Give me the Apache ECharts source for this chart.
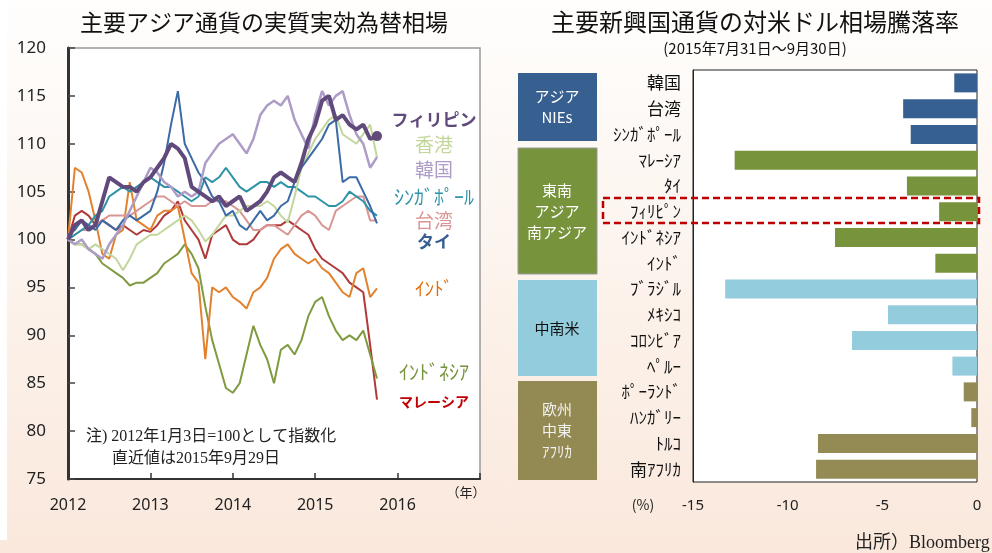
<!DOCTYPE html>
<html>
<head>
<meta charset="utf-8">
<script src="https://cdn.jsdelivr.net/npm/echarts@6/dist/echarts.min.js"></script>
<style>
html, body { margin: 0; padding: 0; }
#chart { width: 992px; height: 553px; background: linear-gradient(to bottom, #fffefd 0%, #fcf3ec 50%, #fae8dc 100%); }
</style>
</head>
<body>
<div id="chart"></div>
<script>
// 月次（2012年1月～2015年9月）、2012年1月3日=100
var philippines = [100,101.5,102,101,101.5,104,106.5,106,105.5,105.5,105,106,106.5,107.5,108.5,110,109.5,108.5,105.5,105,104.5,104,104.5,103.5,104,104.5,103,103.5,104,105,106.5,107,106.5,106,108,110.5,112,114.5,115,112.5,113,112,111.5,112,110.5,110.8];
var hongkong = [100,99.5,99.5,99,99.5,99,98.5,98,96.8,98,99.5,100,100.5,100.5,101,101.5,102,102.5,102,101,99.8,100.5,101.5,102.5,102.5,103,103.5,103.5,103.5,104,103.5,102.5,101.8,104.5,107.5,109,110.5,111.5,112.5,113,111,110.5,110,111,112,108.6];
var korea = [100,99.5,100,99,98.5,98,99.5,100.5,101.5,103,104.5,106,107.5,107,106,105.5,104.5,105,104.5,105,108,109,110,110.5,111,110,109,110.5,113,114,114.5,114,115,112.5,111,109.5,113,115.5,114,115,115.5,113,111,110,107.5,108.6];
var singapore = [100,100.5,101,101.5,102.5,103,104.5,105,105.5,105,105.5,106,106.5,106,105.5,105.5,105,104.5,104,104.5,106.5,106,106.5,107.5,106.5,105.5,105,105.5,106,106,105.5,106,105.5,105.5,105,104.5,104.5,104,103.5,103.5,104,105,104.5,104,103,102.5];
var taiwan = [100,100.5,101,101,101.5,102,102.5,102.5,102.5,102.5,103,103.5,104,104.5,104.5,104,103.5,104,103.5,103.5,103.5,104,104,104,103.5,103,102,101,101,101.5,101.5,101,100.5,101.5,102.5,103,102.5,101.5,101,103,103.5,104,104.5,104.5,102,102];
var thailand = [100.5,101,102,101.5,101,102,101.5,101,102,102.5,102,102.5,103,105,108,112,115.5,110,108.5,107,106,104.5,104,102.5,103,101.5,101,102,103,102,102.5,103.5,104,106,107.5,108.5,109.5,110.5,112,112.5,106,106.5,106.5,105,103.5,101.7];
var india = [100,107.5,107,105,102,98.5,98,100.5,101,106,102,101.5,101,102.5,103,103,103.5,100,96.5,95.5,87.5,95,94.5,95,94,93.5,92.8,94.5,95,96,98,99,99.5,98.5,98,97.5,98,97,96.5,95.5,94.5,94,96.5,97,94,94.9];
var indonesia = [100,99.5,99.5,99,98.5,97.5,97,96.5,96,95.2,95.5,95.5,96,96.5,97.5,98,98.5,99.5,98.5,97,93,89.5,87,84.5,84,85,88,91,89,87.5,85,88.5,89,88,89.5,92,93.5,94,92,90.5,89.5,90,89.5,90.5,88,85.5];
var malaysia = [100,102.5,103,102.5,101.5,102,101.5,101,101.5,101,100.5,101,100.8,101.5,102.5,103,104,102,101,100,98,100.5,101,101.5,100,99.5,99.5,100,101,101.5,101.5,101.5,102,101.5,101,100.5,99,98,97.5,97,96.5,95.5,95,94.5,89,83.3];

var yearTicks = [2012, 2013, 2014, 2015, 2016];

// 対米ドル騰落率（%）
var barCats = ['韓国','台湾','ｼﾝｶﾞﾎﾟｰﾙ','ﾏﾚｰｼｱ','ﾀｲ','ﾌｨﾘﾋﾟﾝ','ｲﾝﾄﾞﾈｼｱ','ｲﾝﾄﾞ','ﾌﾞﾗｼﾞﾙ','ﾒｷｼｺ','ｺﾛﾝﾋﾞｱ','ﾍﾟﾙｰ','ﾎﾟｰﾗﾝﾄﾞ','ﾊﾝｶﾞﾘｰ','ﾄﾙｺ','南ｱﾌﾘｶ'];
var barVals = [-1.2,-3.9,-3.5,-12.8,-3.7,-2.0,-7.5,-2.2,-13.3,-4.7,-6.6,-1.3,-0.7,-0.3,-8.4,-8.5];
var barGroup = [0,0,0,1,1,1,1,1,2,2,2,2,3,3,3,3];
var groupColors = ['#376092', '#77933c', '#93cddd', '#948a54'];

var JP = "'Noto Sans CJK JP', sans-serif";
var SERIF = "'Liberation Serif', 'Noto Sans CJK JP', serif";

function toPairs(arr) {
    return arr.map(function (v, i) { return [2012 + i / 12, v]; });
}

var lineDefs = [
    { name: 'マレーシア', data: malaysia, color: '#b03a3a', width: 2 },
    { name: 'インドネシア', data: indonesia, color: '#7f9a40', width: 2 },
    { name: 'インド', data: india, color: '#e3822e', width: 2 },
    { name: '台湾', data: taiwan, color: '#d99694', width: 2 },
    { name: 'シンガポール', data: singapore, color: '#2f93a8', width: 2 },
    { name: '香港', data: hongkong, color: '#c3d69b', width: 2 },
    { name: 'タイ', data: thailand, color: '#3b6ba6', width: 2 },
    { name: '韓国', data: korea, color: '#ad9cc6', width: 2.5 },
    { name: 'フィリピン', data: philippines, color: '#604a7b', width: 4 }
];

var series = lineDefs.map(function (d) {
    var s = {
        name: d.name,
        type: 'line',
        xAxisIndex: 0,
        yAxisIndex: 0,
        showSymbol: false,
        data: toPairs(d.data),
        lineStyle: { color: d.color, width: d.width },
        itemStyle: { color: d.color }
    };
    if (d.name === 'フィリピン') {
        var last = s.data[s.data.length - 1];
        s.markPoint = {
            symbol: 'circle',
            symbolSize: 10,
            label: { show: false },
            itemStyle: { color: d.color },
            data: [{ coord: last }]
        };
    }
    return s;
});

series.push({
    type: 'bar',
    xAxisIndex: 1,
    yAxisIndex: 1,
    barWidth: 19,
    data: barVals.map(function (v, i) {
        return { value: v, itemStyle: { color: groupColors[barGroup[i]] } };
    })
});

// 左図の凡例（線の右端に並ぶラベル）
var legendLabels = [
    { text: 'フィリピン', y: 120, color: '#604a7b', size: 17, weight: 'bold' },
    { text: '香港', y: 145, color: '#c3d69b', size: 19, weight: 'normal' },
    { text: '韓国', y: 170, color: '#ad9cc6', size: 19, weight: 'normal' },
    { text: 'ｼﾝｶﾞﾎﾟｰﾙ', y: 197, color: '#2f93a8', size: 20, weight: 'normal' },
    { text: '台湾', y: 221, color: '#d99694', size: 19, weight: 'normal' },
    { text: 'タイ', y: 242, color: '#376092', size: 17, weight: 'bold' },
    { text: 'ｲﾝﾄﾞ', y: 289, color: '#e46c0a', size: 19, weight: 'normal' },
    { text: 'ｲﾝﾄﾞﾈｼｱ', y: 372, color: '#77933c', size: 20, weight: 'normal' },
    { text: 'マレーシア', y: 402, color: '#c00000', size: 14, weight: 'bold' }
];

var graphics = [];
legendLabels.forEach(function (l) {
    graphics.push({
        type: 'text', x: 434, y: l.y, z: 10,
        style: { text: l.text, fill: l.color, font: l.weight + ' ' + l.size + 'px ' + JP, textAlign: 'center', textVerticalAlign: 'middle' }
    });
});

// 右図の地域ボックス
var boxes = [
    { y: 73, h: 68, color: '#375f8f', text: 'アジア\nNIEs', tc: '#fff', stroke: null },
    { y: 148, h: 126, color: '#77933c', text: '東南\nアジア\n南アジア', tc: '#fff', stroke: '#999' },
    { y: 280, h: 96, color: '#93cddd', text: '中南米', tc: '#111', stroke: null },
    { y: 381, h: 99, color: '#938953', text: '欧州\n中東\nｱﾌﾘｶ', tc: '#f2f2f2', stroke: null }
];
boxes.forEach(function (b) {
    graphics.push({
        type: 'rect', z: 5,
        shape: { x: 518, y: b.y, width: 79, height: b.h },
        style: { fill: b.color, stroke: b.stroke, lineWidth: 1 }
    });
    graphics.push({
        type: 'text', z: 6, x: 557, y: b.y + b.h / 2,
        style: { text: b.text, fill: b.tc, font: '15px ' + JP, textAlign: 'center', textVerticalAlign: 'middle', lineHeight: 21 }
    });
});

graphics.push(
    { type: 'rect', z: 0, shape: { x: 0, y: 0, width: 7, height: 540 }, style: { fill: '#ffffff' } },
    { type: 'text', z: 10, x: 264, y: 22, style: { text: '主要アジア通貨の実質実効為替相場', fill: '#111', font: '23px ' + JP, textAlign: 'center', textVerticalAlign: 'middle' } },
    { type: 'text', z: 10, x: 755, y: 22, style: { text: '主要新興国通貨の対米ドル相場騰落率', fill: '#111', font: '24px ' + JP, textAlign: 'center', textVerticalAlign: 'middle' } },
    { type: 'text', z: 10, x: 755, y: 48, style: { text: '(2015年7月31日～9月30日)', fill: '#111', font: '15px ' + JP, textAlign: 'center', textVerticalAlign: 'middle' } },
    { type: 'text', z: 10, x: 86, y: 437, style: { text: '注) 2012年1月3日=100として指数化', fill: '#222', font: '16px ' + SERIF, textVerticalAlign: 'middle' } },
    { type: 'text', z: 10, x: 112, y: 459, style: { text: '直近値は2015年9月29日', fill: '#222', font: '16px ' + SERIF, textVerticalAlign: 'middle' } },
    { type: 'text', z: 10, x: 466, y: 492, style: { text: '（年）', fill: '#222', font: '13px ' + JP, textAlign: 'center', textVerticalAlign: 'middle' } },
    { type: 'text', z: 10, x: 643, y: 505, style: { text: '(%)', fill: '#222', font: '14px ' + JP, textAlign: 'center', textVerticalAlign: 'middle' } },
    { type: 'text', z: 10, x: 855, y: 543, style: { text: '出所）Bloomberg', fill: '#222', font: '18px ' + SERIF, textVerticalAlign: 'middle' } },
    {
        type: 'rect', z: 20,
        shape: { x: 603, y: 198, width: 376, height: 25 },
        style: { fill: 'none', stroke: '#c00000', lineWidth: 2.5, lineDash: [7, 4] }
    }
);

var chart = echarts.init(document.getElementById('chart'));
chart.setOption({
    backgroundColor: 'transparent',
    animation: false,
    textStyle: { fontFamily: JP },
    grid: [
        { left: 68, top: 48, width: 412, height: 431, show: true, backgroundColor: '#fff', borderColor: '#999', borderWidth: 1.5 },
        { left: 693, top: 70, width: 284, height: 412, show: true, backgroundColor: '#fff', borderColor: '#222', borderWidth: 1 }
    ],
    xAxis: [
        {
            gridIndex: 0, type: 'value', min: 2012, max: 2017, interval: 1,
            axisLine: { lineStyle: { color: '#333', width: 2 } },
            axisTick: { inside: true, length: 6, lineStyle: { color: '#333', width: 1.5 } },
            axisLabel: {
                fontSize: 16, color: '#222', margin: 18, fontFamily: "'Noto Sans', sans-serif",
                formatter: function (v) { return yearTicks.indexOf(v) >= 0 ? String(v) : ''; }
            },
            splitLine: { show: false }
        },
        {
            gridIndex: 1, type: 'value', min: -15, max: 0, interval: 5,
            axisLine: { show: false },
            axisTick: { show: false },
            axisLabel: { fontSize: 15, color: '#222', margin: 16, fontFamily: "'Noto Sans', sans-serif" },
            splitLine: { show: false }
        }
    ],
    yAxis: [
        {
            gridIndex: 0, type: 'value', min: 75, max: 120, interval: 5,
            axisLine: { show: true, lineStyle: { color: '#333', width: 3 } },
            axisTick: { show: true, inside: true, length: 7, lineStyle: { color: '#444', width: 1.5 } },
            axisLabel: { fontSize: 17, color: '#222', margin: 22, fontFamily: "'Noto Sans', sans-serif" },
            splitLine: { show: false }
        },
        {
            gridIndex: 1, type: 'category', data: barCats, inverse: true,
            axisLine: { show: true, onZero: false, lineStyle: { color: '#222', width: 1 } },
            axisTick: { show: false },
            axisLabel: { fontSize: 17, color: '#111', margin: 12, fontFamily: JP },
            splitLine: { show: false }
        }
    ],
    series: series,
    graphic: { elements: graphics }
});
</script>
</body>
</html>
